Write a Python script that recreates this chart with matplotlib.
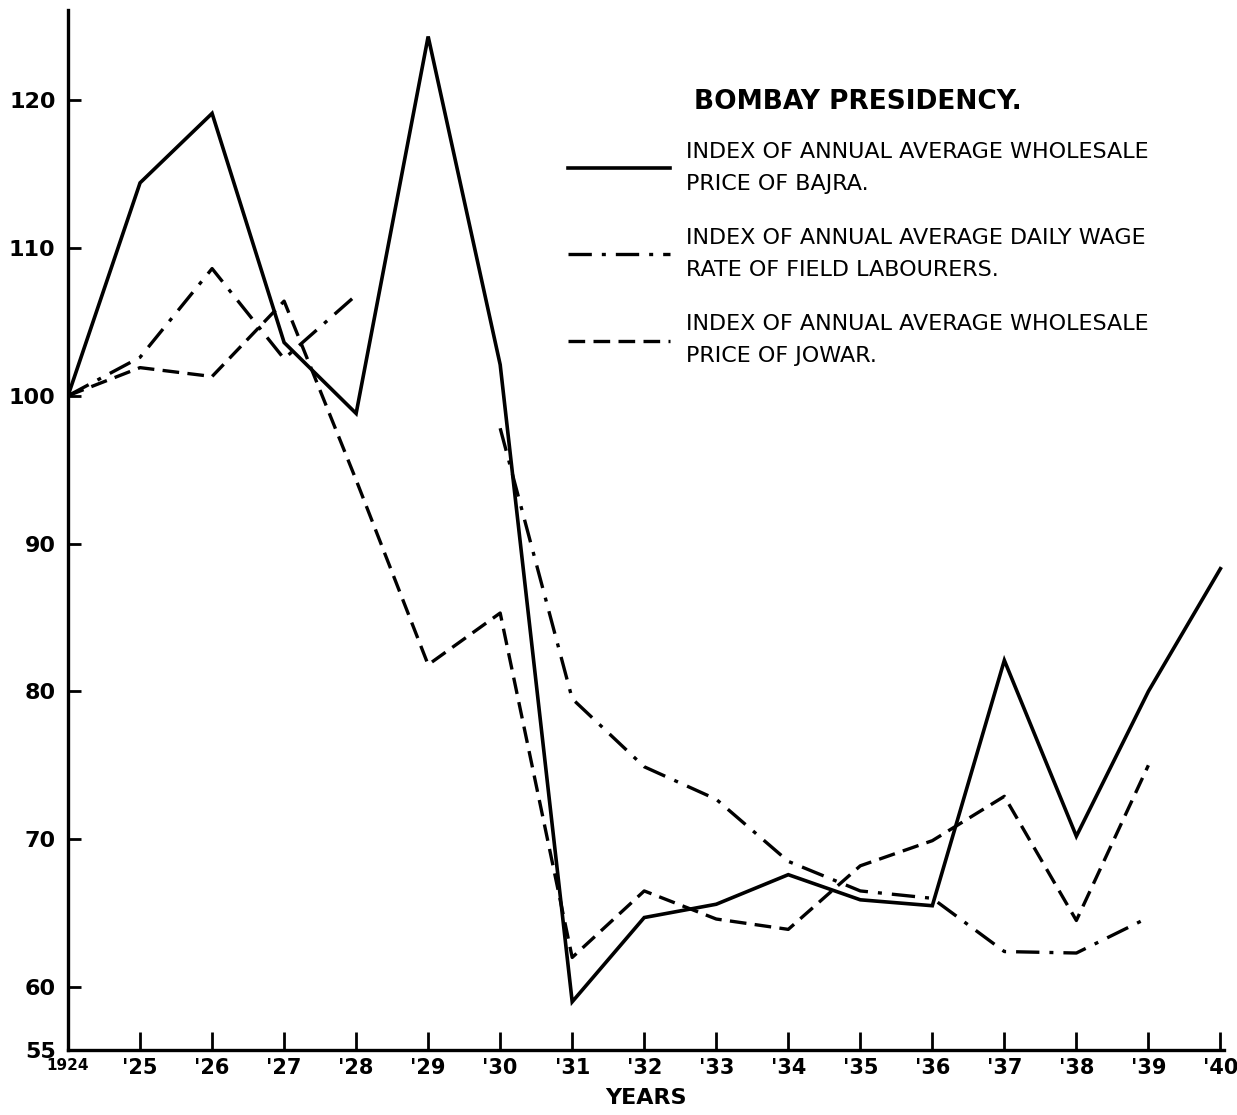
import numpy as np
import matplotlib
matplotlib.use("Agg")
import matplotlib.pyplot as plt

nan = np.nan

# years on the x axis
years = list(range(1924, 1941))
year_labels = ["1924", "'25", "'26", "'27", "'28", "'29", "'30", "'31", "'32",
               "'33", "'34", "'35", "'36", "'37", "'38", "'39", "'40"]

# index of annual average wholesale price of bajra
bajra = [100, 114.4, 119.1, 103.6, 98.8, 124.3, 102.1, 59.0, 64.7,
         65.6, 67.6, 65.9, 65.5, 82.1, 70.2, 80.0, 88.3]
# index of annual average daily wage rate of field labourers
wage = [100, 102.6, 108.6, 102.5, 106.8, nan, 97.8, 79.5, 74.9,
        72.7, 68.5, 66.5, 66.0, 62.4, 62.3, 64.7, nan]
# index of annual average wholesale price of jowar
jowar = [100, 101.9, 101.3, 106.4, 94.3, 81.8, 85.3, 62.0, 66.5,
         64.6, 63.9, 68.2, 69.9, 72.9, 64.5, 75.0, nan]

y_ticks = [55.74, 60, 70, 80, 90, 100, 110, 120]
y_labels = ["55", "60", "70", "80", "90", "100", "110", "120"]

labels = ["INDEX OF ANNUAL AVERAGE WHOLESALE\nPRICE OF BAJRA.",
          "INDEX OF ANNUAL AVERAGE DAILY WAGE\nRATE OF FIELD LABOURERS.",
          "INDEX OF ANNUAL AVERAGE WHOLESALE\nPRICE OF JOWAR."]
title = "BOMBAY PRESIDENCY."

fig = plt.figure(figsize=(12.37, 11.15), dpi=100)
ax = fig.add_axes([0.055, 0.0583, 0.9345, 0.9327])

ink = "black"
l1, = ax.plot(years, bajra, color=ink, lw=2.6, solid_joinstyle="miter")
l2, = ax.plot(years, wage, color=ink, lw=2.4, linestyle=(0, (7, 3, 1.2, 3)))
l3, = ax.plot(years, jowar, color=ink, lw=2.4, linestyle=(0, (5, 2.5)))

ax.set_xlim(1924, 1940.05)
ax.set_ylim(55.74, 126.09)

for s in ["top", "right"]:
    ax.spines[s].set_visible(False)
for s in ["left", "bottom"]:
    ax.spines[s].set_linewidth(2.4)

ax.set_yticks(y_ticks)
ax.set_yticklabels(y_labels, fontsize=16, fontweight="bold")
ax.tick_params(axis="y", direction="in", length=9, width=2, pad=9)
ax.yaxis.get_major_ticks()[0].tick1line.set_visible(False)

ax.set_xticks(years)
ax.set_xticklabels(year_labels, fontsize=15, fontweight="bold")
ax.get_xticklabels()[0].set_fontsize(11)
ax.tick_params(axis="x", direction="in", length=13, width=2, pad=6)
ax.set_xlabel("YEARS", fontsize=16, fontweight="bold", labelpad=7)

leg = ax.legend([l1, l2, l3], labels, loc="upper left",
                bbox_to_anchor=(557 / 1237, 1 - 78 / 1115),
                bbox_transform=fig.transFigure, frameon=False,
                handlelength=4.6, handletextpad=0.7, labelspacing=1.55,
                borderpad=0, prop={"size": 16})
for t in leg.get_texts():
    t.set_linespacing(1.75)
leg.set_title(title, prop={"size": 19, "weight": "bold"})
leg._legend_box.sep = 19

fig.savefig("out.png", dpi=100)
